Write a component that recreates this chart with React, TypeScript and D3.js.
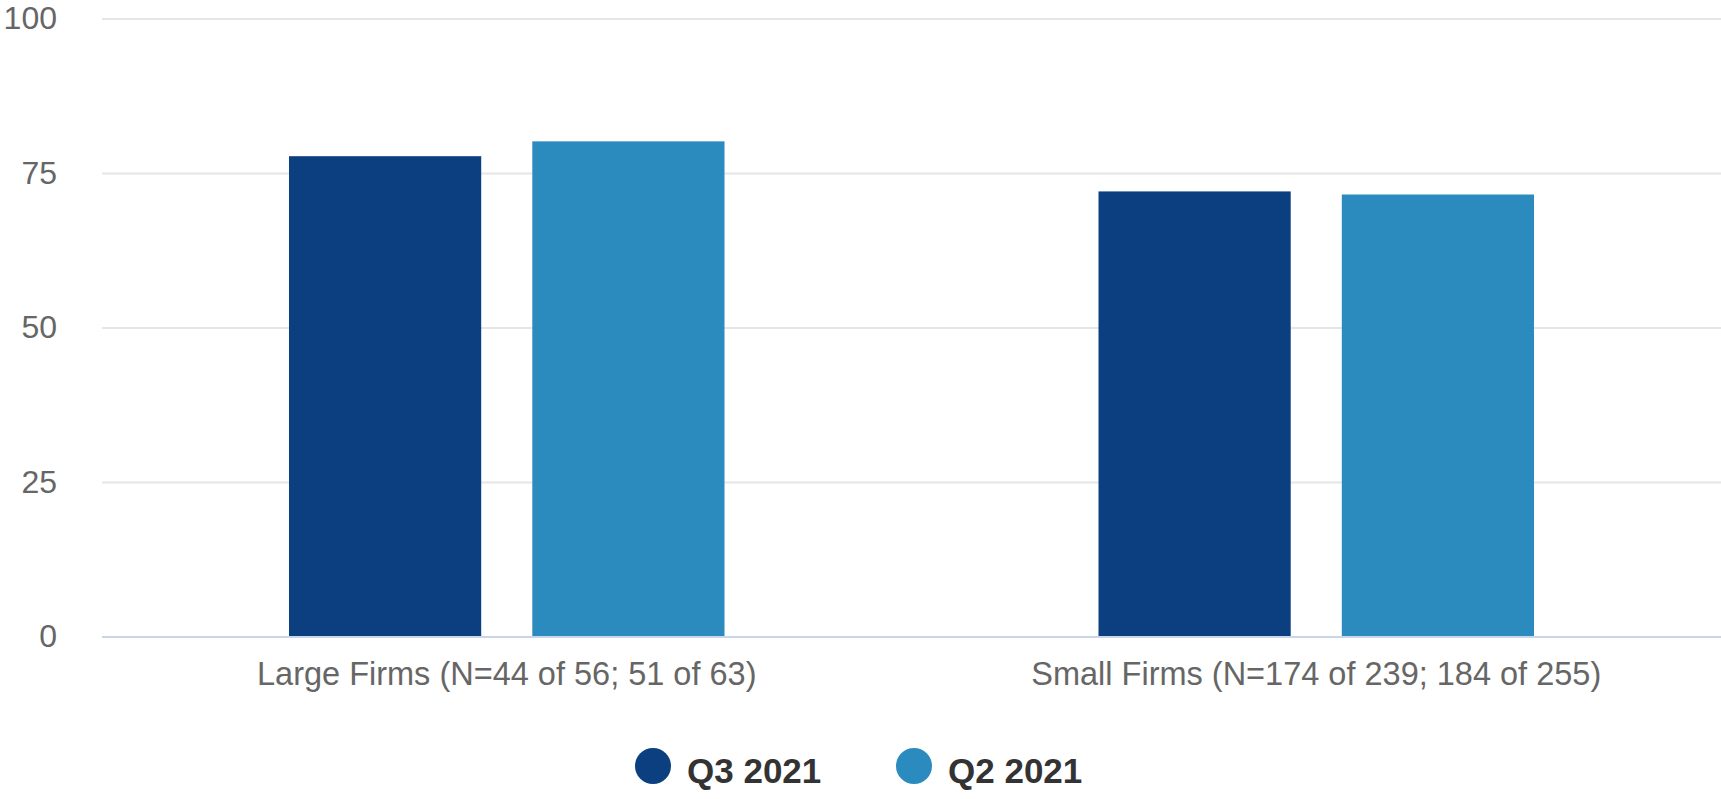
import React from "react";
import * as d3 from "d3";

// Share of firms per size class, two survey quarters
const categories = [
  "Large Firms (N=44 of 56; 51 of 63)",
  "Small Firms (N=174 of 239; 184 of 255)",
];
const seriesNames = ["Q3 2021", "Q2 2021"];
const q3Values = [77.8, 72.1];
const q2Values = [80.2, 71.6];
const yTicks = [0, 25, 50, 75, 100];
const seriesColors = ["#0b3f7f", "#2c8bbe"];

const W = 1721;
const H = 799;
const FONT = "'Liberation Sans', Arial, Helvetica, sans-serif";

export default function App() {
  const plotLeft = 102;
  const plotRight = 1721;
  const plotTop = 19;
  const plotBottom = 637;

  const y = d3.scaleLinear().domain([0, 100]).range([plotBottom, plotTop]);
  const x0 = d3.scaleBand<string>().domain(categories).range([plotLeft, plotRight]).padding(0);
  const bw = x0.bandwidth();
  const x1 = d3
    .scaleBand<string>()
    .domain(seriesNames)
    .range([bw * 0.231, bw * (1 - 0.231)])
    .paddingInner(0.21)
    .paddingOuter(0);

  const seriesValues = [q3Values, q2Values];

  return (
    <svg
      width={W}
      height={H}
      style={{ position: "absolute", left: 0, top: 0, background: "#ffffff" }}
      fontFamily={FONT}
    >
      {/* horizontal grid */}
      {yTicks.map((t) => (
        <g key={t}>
          {t !== 0 && (
            <line
              x1={plotLeft}
              x2={plotRight}
              y1={y(t)}
              y2={y(t)}
              stroke="#e6e6e6"
              strokeWidth={2}
            />
          )}
          <text
            x={57}
            y={y(t) - 1}
            dy="0.35em"
            textAnchor="end"
            fontSize={32}
            fill="#666666"
          >
            {t}
          </text>
        </g>
      ))}

      {/* bars */}
      {categories.map((c, ci) => (
        <g key={c} transform={`translate(${x0(c)},0)`}>
          {seriesNames.map((s, si) => {
            const v = seriesValues[si][ci];
            return (
              <rect
                key={s}
                x={x1(s)}
                y={y(v)}
                width={x1.bandwidth()}
                height={y(0) - y(v)}
                fill={seriesColors[si]}
              />
            );
          })}
        </g>
      ))}

      {/* baseline */}
      <line
        x1={plotLeft}
        x2={plotRight}
        y1={y(0)}
        y2={y(0)}
        stroke="#ccd6eb"
        strokeWidth={2}
      />

      {/* category labels */}
      {categories.map((c) => (
        <text
          key={c}
          x={(x0(c) as number) + bw / 2}
          y={685}
          textAnchor="middle"
          fontSize={32.5}
          fill="#666666"
        >
          {c}
        </text>
      ))}

      {/* legend */}
      {seriesNames.map((s, i) => {
        const cx = [653, 914][i];
        return (
          <g key={s}>
            <circle cx={cx} cy={766} r={18} fill={seriesColors[i]} />
            <text x={cx + 34} y={783} fontSize={35} fontWeight="bold" fill="#333333">
              {s}
            </text>
          </g>
        );
      })}
    </svg>
  );
}
